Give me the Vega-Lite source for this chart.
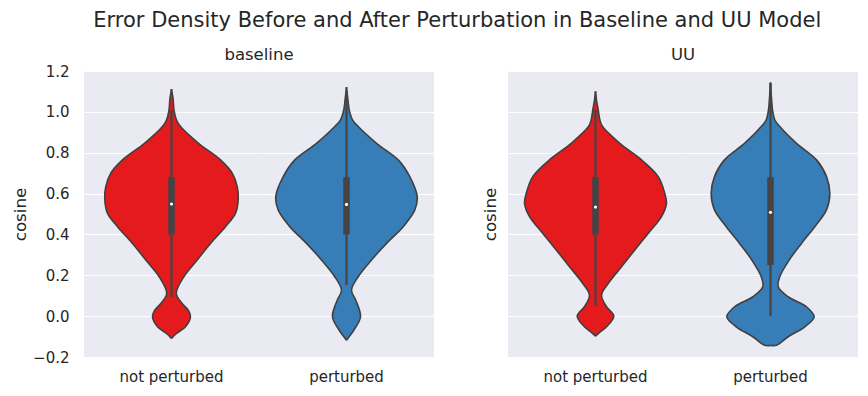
{
  "$schema": "https://vega.github.io/schema/vega-lite/v6.json",
  "background": "white",
  "padding": {"left": 12, "top": 9, "right": 5, "bottom": 5},
  "title": {"text": "Error Density Before and After Perturbation in Baseline and UU Model", "fontSize": 21, "font": "DejaVu Sans", "fontWeight": "normal", "color": "#262626", "anchor": "middle", "offset": 16, "dx": 22},
  "config": {
    "font": "DejaVu Sans",
    "view": {"fill": "#EAEAF2", "stroke": null},
    "axis": {"gridColor": "white", "gridWidth": 1, "domain": false, "ticks": false, "tickSize": 0, "labelFontSize": 15, "labelColor": "#262626", "titleFontSize": 16.7, "titleColor": "#262626", "titleFontWeight": "normal", "labelPadding": 15, "titlePadding": 3, "labelFont": "DejaVu Sans", "titleFont": "DejaVu Sans"},
    "header": {"labelFontSize": 15, "labelColor": "#262626", "labelOrient": "bottom", "labelPadding": 13, "labelFont": "DejaVu Sans", "titleOrient": "top", "titleFontSize": 16.5, "titleFontWeight": "normal", "titleColor": "#262626", "titleFont": "DejaVu Sans", "titlePadding": -2}
  },
  "datasets": {
    "baseline": [
      {"cond": "not perturbed", "y": 1.111, "d": 0},
      {"cond": "not perturbed", "y": 1.06, "d": 0.019},
      {"cond": "not perturbed", "y": 1.01, "d": 0.028},
      {"cond": "not perturbed", "y": 0.96, "d": 0.057},
      {"cond": "not perturbed", "y": 0.928, "d": 0.103},
      {"cond": "not perturbed", "y": 0.846, "d": 0.309},
      {"cond": "not perturbed", "y": 0.765, "d": 0.56},
      {"cond": "not perturbed", "y": 0.70, "d": 0.694},
      {"cond": "not perturbed", "y": 0.634, "d": 0.751},
      {"cond": "not perturbed", "y": 0.569, "d": 0.762},
      {"cond": "not perturbed", "y": 0.503, "d": 0.731},
      {"cond": "not perturbed", "y": 0.438, "d": 0.617},
      {"cond": "not perturbed", "y": 0.356, "d": 0.446},
      {"cond": "not perturbed", "y": 0.275, "d": 0.294},
      {"cond": "not perturbed", "y": 0.193, "d": 0.141},
      {"cond": "not perturbed", "y": 0.111, "d": 0.055},
      {"cond": "not perturbed", "y": 0.062, "d": 0.122},
      {"cond": "not perturbed", "y": 0.03, "d": 0.19},
      {"cond": "not perturbed", "y": -0.003, "d": 0.217},
      {"cond": "not perturbed", "y": -0.052, "d": 0.16},
      {"cond": "not perturbed", "y": -0.085, "d": 0.057},
      {"cond": "not perturbed", "y": -0.109, "d": 0},
      {"cond": "perturbed", "y": 1.121, "d": 0},
      {"cond": "perturbed", "y": 1.06, "d": 0.016},
      {"cond": "perturbed", "y": 1.01, "d": 0.031},
      {"cond": "perturbed", "y": 0.96, "d": 0.07},
      {"cond": "perturbed", "y": 0.928, "d": 0.134},
      {"cond": "perturbed", "y": 0.846, "d": 0.343},
      {"cond": "perturbed", "y": 0.765, "d": 0.591},
      {"cond": "perturbed", "y": 0.683, "d": 0.723},
      {"cond": "perturbed", "y": 0.585, "d": 0.808},
      {"cond": "perturbed", "y": 0.52, "d": 0.781},
      {"cond": "perturbed", "y": 0.438, "d": 0.648},
      {"cond": "perturbed", "y": 0.356, "d": 0.457},
      {"cond": "perturbed", "y": 0.275, "d": 0.286},
      {"cond": "perturbed", "y": 0.193, "d": 0.134},
      {"cond": "perturbed", "y": 0.127, "d": 0.057},
      {"cond": "perturbed", "y": 0.078, "d": 0.106},
      {"cond": "perturbed", "y": -0.003, "d": 0.16},
      {"cond": "perturbed", "y": -0.069, "d": 0.083},
      {"cond": "perturbed", "y": -0.095, "d": 0.04},
      {"cond": "perturbed", "y": -0.118, "d": 0},
      {"cond": "not perturbed", "kind": "stat", "wlo": 0.092, "whi": 1.01, "q1": 0.40, "q3": 0.68, "med": 0.549},
      {"cond": "perturbed", "kind": "stat", "wlo": 0.152, "whi": 1.10, "q1": 0.40, "q3": 0.68, "med": 0.547}
    ],
    "uu": [
      {"cond": "not perturbed", "y": 1.10, "d": 0},
      {"cond": "not perturbed", "y": 1.05, "d": 0.014},
      {"cond": "not perturbed", "y": 1.01, "d": 0.031},
      {"cond": "not perturbed", "y": 0.96, "d": 0.05},
      {"cond": "not perturbed", "y": 0.928, "d": 0.08},
      {"cond": "not perturbed", "y": 0.846, "d": 0.278},
      {"cond": "not perturbed", "y": 0.765, "d": 0.526},
      {"cond": "not perturbed", "y": 0.683, "d": 0.717},
      {"cond": "not perturbed", "y": 0.60, "d": 0.792},
      {"cond": "not perturbed", "y": 0.552, "d": 0.811},
      {"cond": "not perturbed", "y": 0.487, "d": 0.754},
      {"cond": "not perturbed", "y": 0.405, "d": 0.602},
      {"cond": "not perturbed", "y": 0.324, "d": 0.449},
      {"cond": "not perturbed", "y": 0.242, "d": 0.297},
      {"cond": "not perturbed", "y": 0.160, "d": 0.145},
      {"cond": "not perturbed", "y": 0.103, "d": 0.069},
      {"cond": "not perturbed", "y": 0.046, "d": 0.126},
      {"cond": "not perturbed", "y": 0.0, "d": 0.209},
      {"cond": "not perturbed", "y": -0.052, "d": 0.126},
      {"cond": "not perturbed", "y": -0.075, "d": 0.06},
      {"cond": "not perturbed", "y": -0.098, "d": 0},
      {"cond": "perturbed", "y": 1.144, "d": 0},
      {"cond": "perturbed", "y": 1.07, "d": 0.011},
      {"cond": "perturbed", "y": 1.01, "d": 0.023},
      {"cond": "perturbed", "y": 0.96, "d": 0.05},
      {"cond": "perturbed", "y": 0.928, "d": 0.106},
      {"cond": "perturbed", "y": 0.846, "d": 0.297},
      {"cond": "perturbed", "y": 0.765, "d": 0.526},
      {"cond": "perturbed", "y": 0.683, "d": 0.64},
      {"cond": "perturbed", "y": 0.60, "d": 0.678},
      {"cond": "perturbed", "y": 0.52, "d": 0.64},
      {"cond": "perturbed", "y": 0.438, "d": 0.506},
      {"cond": "perturbed", "y": 0.356, "d": 0.354},
      {"cond": "perturbed", "y": 0.275, "d": 0.214},
      {"cond": "perturbed", "y": 0.193, "d": 0.106},
      {"cond": "perturbed", "y": 0.144, "d": 0.088},
      {"cond": "perturbed", "y": 0.095, "d": 0.202},
      {"cond": "perturbed", "y": 0.046, "d": 0.411},
      {"cond": "perturbed", "y": -0.003, "d": 0.499},
      {"cond": "perturbed", "y": -0.052, "d": 0.392},
      {"cond": "perturbed", "y": -0.101, "d": 0.202},
      {"cond": "perturbed", "y": -0.142, "d": 0.069},
      {"cond": "perturbed", "y": -0.143, "d": 0},
      {"cond": "not perturbed", "kind": "stat", "wlo": 0.05, "whi": 1.01, "q1": 0.40, "q3": 0.68, "med": 0.534},
      {"cond": "perturbed", "kind": "stat", "wlo": 0.0, "whi": 1.14, "q1": 0.25, "q3": 0.68, "med": 0.508}
    ]
  },
  "spacing": 48,
  "hconcat": [
    {
      "data": {"name": "baseline"},
      "spacing": 0,
      "facet": {"column": {"field": "cond", "type": "nominal", "title": "baseline", "sort": ["not perturbed", "perturbed"], "header": {"titleOrient": "top", "labelOrient": "bottom"}}},
      "spec": {
        "width": 175,
        "height": 286,
        "resolve": {"scale": {"x": "independent"}},
        "layer": [
          {
            "transform": [{"filter": "isValid(datum.d)"}],
            "mark": {"type": "area", "orient": "horizontal", "interpolate": "catmull-rom"},
            "encoding": {
              "y": {"field": "y", "type": "quantitative", "scale": {"domain": [-0.2, 1.2], "nice": false, "zero": false}, "title": "cosine", "axis": {"values": [-0.2, 0, 0.2, 0.4, 0.6, 0.8, 1.0, 1.2], "format": ".1f", "labelFlush": false, "labelOverlap": false}},
              "x": {"field": "d", "type": "quantitative", "scale": {"domain": [-1, 1]}, "axis": null},
              "x2": {"datum": -0.008},
              "color": {"field": "cond", "type": "nominal", "scale": {"domain": ["not perturbed", "perturbed"], "range": ["#e41a1c", "#377eb8"]}, "legend": null}
            }
          },
          {
            "transform": [{"filter": "isValid(datum.d)"}],
            "mark": {"type": "area", "orient": "horizontal", "interpolate": "catmull-rom"},
            "encoding": {
              "y": {"field": "y", "type": "quantitative", "title": "cosine"},
              "x": {"field": "d", "type": "quantitative", "scale": {"domain": [-1, 1], "reverse": true}, "axis": null},
              "x2": {"datum": -0.008},
              "color": {"field": "cond", "type": "nominal", "scale": {"domain": ["not perturbed", "perturbed"], "range": ["#e41a1c", "#377eb8"]}, "legend": null}
            }
          },
          {
            "transform": [{"filter": "isValid(datum.d)"}],
            "mark": {"type": "line", "interpolate": "catmull-rom", "color": "#404040", "strokeWidth": 1.6},
            "encoding": {
              "y": {"field": "y", "type": "quantitative", "title": "cosine"},
              "x": {"field": "d", "type": "quantitative", "scale": {"domain": [-1, 1]}, "axis": null},
              "order": {"field": "y", "type": "quantitative"}
            }
          },
          {
            "transform": [{"filter": "isValid(datum.d)"}],
            "mark": {"type": "line", "interpolate": "catmull-rom", "color": "#404040", "strokeWidth": 1.6},
            "encoding": {
              "y": {"field": "y", "type": "quantitative", "title": "cosine"},
              "x": {"field": "d", "type": "quantitative", "scale": {"domain": [-1, 1], "reverse": true}, "axis": null},
              "order": {"field": "y", "type": "quantitative"}
            }
          },
          {
            "transform": [{"filter": "isValid(datum.q1)"}],
            "mark": {"type": "rule", "color": "#444444", "strokeWidth": 2.2},
            "encoding": {
              "x": {"datum": 0, "type": "quantitative", "scale": {"domain": [-1, 1]}, "axis": null},
              "y": {"field": "wlo", "type": "quantitative", "title": "cosine"},
              "y2": {"field": "whi"}
            }
          },
          {
            "transform": [{"filter": "isValid(datum.q1)"}],
            "mark": {"type": "rule", "color": "#444444", "strokeWidth": 6.5},
            "encoding": {
              "x": {"datum": 0, "type": "quantitative", "scale": {"domain": [-1, 1]}, "axis": null},
              "y": {"field": "q1", "type": "quantitative", "title": "cosine"},
              "y2": {"field": "q3"}
            }
          },
          {
            "transform": [{"filter": "isValid(datum.q1)"}],
            "mark": {"type": "point", "filled": true, "color": "white", "size": 10, "opacity": 1},
            "encoding": {
              "x": {"datum": 0, "type": "quantitative", "scale": {"domain": [-1, 1]}, "axis": null},
              "y": {"field": "med", "type": "quantitative", "title": "cosine"}
            }
          }
        ]
      }
    },
    {
      "data": {"name": "uu"},
      "spacing": 0,
      "facet": {"column": {"field": "cond", "type": "nominal", "title": "UU", "sort": ["not perturbed", "perturbed"], "header": {"titleOrient": "top", "labelOrient": "bottom"}}},
      "spec": {
        "width": 175,
        "height": 286,
        "resolve": {"scale": {"x": "independent"}},
        "layer": [
          {
            "transform": [{"filter": "isValid(datum.d)"}],
            "mark": {"type": "area", "orient": "horizontal", "interpolate": "catmull-rom"},
            "encoding": {
              "y": {"field": "y", "type": "quantitative", "scale": {"domain": [-0.2, 1.2], "nice": false, "zero": false}, "title": "cosine", "axis": {"values": [-0.2, 0, 0.2, 0.4, 0.6, 0.8, 1.0, 1.2], "labels": false, "titlePadding": 9}},
              "x": {"field": "d", "type": "quantitative", "scale": {"domain": [-1, 1]}, "axis": null},
              "x2": {"datum": -0.008},
              "color": {"field": "cond", "type": "nominal", "scale": {"domain": ["not perturbed", "perturbed"], "range": ["#e41a1c", "#377eb8"]}, "legend": null}
            }
          },
          {
            "transform": [{"filter": "isValid(datum.d)"}],
            "mark": {"type": "area", "orient": "horizontal", "interpolate": "catmull-rom"},
            "encoding": {
              "y": {"field": "y", "type": "quantitative", "title": "cosine"},
              "x": {"field": "d", "type": "quantitative", "scale": {"domain": [-1, 1], "reverse": true}, "axis": null},
              "x2": {"datum": -0.008},
              "color": {"field": "cond", "type": "nominal", "scale": {"domain": ["not perturbed", "perturbed"], "range": ["#e41a1c", "#377eb8"]}, "legend": null}
            }
          },
          {
            "transform": [{"filter": "isValid(datum.d)"}],
            "mark": {"type": "line", "interpolate": "catmull-rom", "color": "#404040", "strokeWidth": 1.6},
            "encoding": {
              "y": {"field": "y", "type": "quantitative", "title": "cosine"},
              "x": {"field": "d", "type": "quantitative", "scale": {"domain": [-1, 1]}, "axis": null},
              "order": {"field": "y", "type": "quantitative"}
            }
          },
          {
            "transform": [{"filter": "isValid(datum.d)"}],
            "mark": {"type": "line", "interpolate": "catmull-rom", "color": "#404040", "strokeWidth": 1.6},
            "encoding": {
              "y": {"field": "y", "type": "quantitative", "title": "cosine"},
              "x": {"field": "d", "type": "quantitative", "scale": {"domain": [-1, 1], "reverse": true}, "axis": null},
              "order": {"field": "y", "type": "quantitative"}
            }
          },
          {
            "transform": [{"filter": "isValid(datum.q1)"}],
            "mark": {"type": "rule", "color": "#444444", "strokeWidth": 2.2},
            "encoding": {
              "x": {"datum": 0, "type": "quantitative", "scale": {"domain": [-1, 1]}, "axis": null},
              "y": {"field": "wlo", "type": "quantitative", "title": "cosine"},
              "y2": {"field": "whi"}
            }
          },
          {
            "transform": [{"filter": "isValid(datum.q1)"}],
            "mark": {"type": "rule", "color": "#444444", "strokeWidth": 6.5},
            "encoding": {
              "x": {"datum": 0, "type": "quantitative", "scale": {"domain": [-1, 1]}, "axis": null},
              "y": {"field": "q1", "type": "quantitative", "title": "cosine"},
              "y2": {"field": "q3"}
            }
          },
          {
            "transform": [{"filter": "isValid(datum.q1)"}],
            "mark": {"type": "point", "filled": true, "color": "white", "size": 10, "opacity": 1},
            "encoding": {
              "x": {"datum": 0, "type": "quantitative", "scale": {"domain": [-1, 1]}, "axis": null},
              "y": {"field": "med", "type": "quantitative", "title": "cosine"}
            }
          }
        ]
      }
    }
  ]
}
